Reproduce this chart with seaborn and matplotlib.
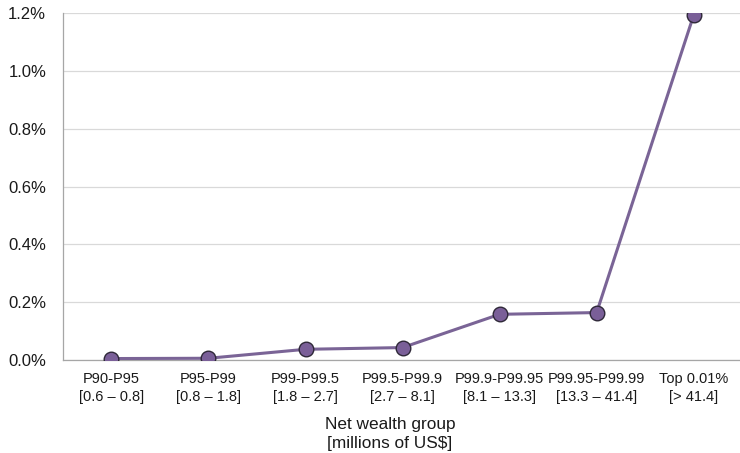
import matplotlib
matplotlib.use("Agg")
import matplotlib.pyplot as plt
import numpy as np
import pandas as pd
import seaborn as sns
from matplotlib.ticker import FixedLocator, FuncFormatter

# -- data --------------------------------------------------------------------

GROUPS = [
    "P90-P95\n[0.6 \u2013 0.8]",
    "P95-P99\n[0.8 \u2013 1.8]",
    "P99-P99.5\n[1.8 \u2013 2.7]",
    "P99.5-P99.9\n[2.7 \u2013 8.1]",
    "P99.9-P99.95\n[8.1 \u2013 13.3]",
    "P99.95-P99.99\n[13.3 \u2013 41.4]",
    "Top 0.01%\n[> 41.4]",
]
SHARE = [0.005, 0.006, 0.037, 0.043, 0.158, 0.164, 1.193]
Y_TICKS = [0.0, 0.2, 0.4, 0.6, 0.8, 1.0, 1.2]

LINE_COL = "#7A6496"
MARKER_COL = "#7A5F98"
GRID_COL = "#D9D9D9"
AXIS_COL = "#A6A6A6"
TEXT_COL = "#1A1A1A"

sns.set_style("white")
plt.rcParams["font.family"] = ["Liberation Sans", "DejaVu Sans"]

df = pd.DataFrame({"pos": np.arange(len(GROUPS)), "share": SHARE})

fig = plt.figure(figsize=(7.4, 4.53), dpi=100)
ax = fig.add_axes([0.085, 0.2053, 0.918, 0.766])

sns.lineplot(
    data=df,
    x="pos",
    y="share",
    color=LINE_COL,
    linewidth=2.2,
    marker="o",
    markersize=10.5,
    markerfacecolor=MARKER_COL,
    markeredgecolor="#2E2838",
    markeredgewidth=1.0,
    ax=ax,
    zorder=3,
)

ax.set_xlim(-0.5, len(GROUPS) - 0.5)
ax.set_ylim(0, 1.2)
ax.set_yticks(Y_TICKS)
ax.yaxis.set_major_formatter(FuncFormatter(lambda v, _: f"{v:.1f}%"))
ax.grid(axis="y", color=GRID_COL, linewidth=0.9)
ax.set_axisbelow(True)

# category labels on minor ticks, boundary ticks on major
ax.xaxis.set_major_locator(FixedLocator(np.arange(len(GROUPS) + 1) - 0.5))
ax.xaxis.set_major_formatter(FuncFormatter(lambda v, _: ""))
ax.xaxis.set_minor_locator(FixedLocator(np.arange(len(GROUPS))))
ax.set_xticklabels(GROUPS, minor=True, fontsize=10.5, color=TEXT_COL,
                   linespacing=1.35)
ax.tick_params(axis="x", which="major", length=5, color=AXIS_COL, direction="out")
ax.tick_params(axis="x", which="minor", length=0, pad=9)
ax.tick_params(axis="y", length=0, labelsize=12, pad=12, labelcolor=TEXT_COL)

for side in ["top", "right"]:
    ax.spines[side].set_visible(False)
for side in ["left", "bottom"]:
    ax.spines[side].set_color(AXIS_COL)
    ax.spines[side].set_linewidth(0.9)

ax.set_xlabel("Net wealth group\n[millions of US$]", fontsize=12.4,
              color=TEXT_COL, linespacing=1.3)
ax.xaxis.set_label_coords((390 - 63) / (742 - 63), -0.213)
ax.xaxis.label.set_verticalalignment("center")
ax.set_ylabel("")

fig.savefig("out.png", dpi=100)
